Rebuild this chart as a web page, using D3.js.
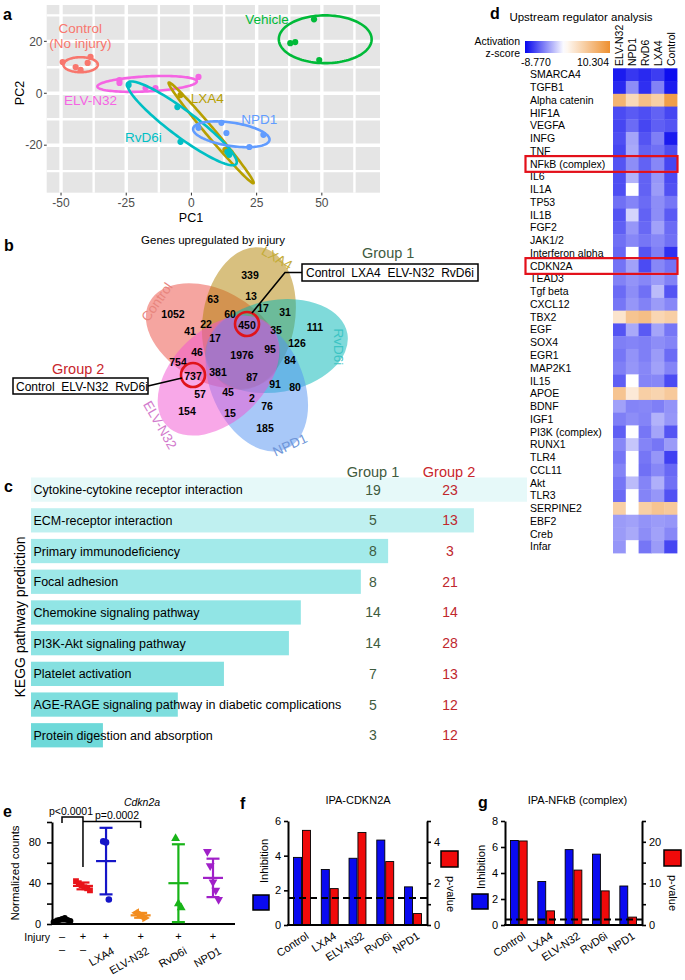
<!DOCTYPE html>
<html><head><meta charset="utf-8">
<script src="https://cdn.jsdelivr.net/npm/d3@7"></script>
<style>
body{margin:0;background:#fff}
svg{display:block;font-family:"Liberation Sans",Arial,Helvetica,sans-serif}
</style></head><body>
<svg id="fig" width="685" height="980"></svg>
<script>
// ================= DATA =================
// Panel a: PCA scores [PC1, PC2]
const pcaGroups = ["Control","Vehicle","ELV-N32","LXA4","RvD6i","NPD1"];
const ptsControl = [[-49.4,12.0],[-44.4,10.1],[-42.5,9.0],[-38.7,14.0],[-39.8,11.7]];
const ptsVehicle = [[37.9,19.3],[39.8,19.7],[47.0,28.5],[49.0,12.8]];
const ptsELV     = [[-27.6,5.1],[-27.6,4.0],[-17.6,2.0],[-13.8,2.0],[2.7,6.3]];
const ptsLXA4    = [[-4.2,-0.7],[13.0,-21.8],[15.0,-22.8]];
const ptsRvD6i   = [[-24.1,3.2],[-5.4,-5.3],[-4.2,-18.7],[13.8,-22.6],[14.5,-23.7]];
const ptsNPD1    = [[2.7,-13.3],[11.5,-11.4],[13.4,-15.3],[22.2,-20.7],[27.6,-16.0]];
// confidence ellipses: [centre PC1, centre PC2, semi-axis a, semi-axis b, angle deg]
const ellControl = [-42.5,11.0,6.6,2.9,0];
const ellVehicle = [51.3,20.8,17.8,9.2,0];
const ellELV     = [-17.0,3.6,19.1,2.9,3];
const ellLXA4    = [7.55,-15.25,25.3,1.7,-50];
const ellRvD6i   = [-3.6,-11.6,26.0,5.0,-37];
const ellNPD1    = [15.3,-15.8,14.8,4.5,-8.6];
const pcaXTicks = [-50,-25,0,25,50];
const pcaYTicks = [-20,0,20];

// Panel b: Venn
const vennSets = ["Control","LXA4","RvD6i","NPD1","ELV-N32"];
const vennCounts = [339,63,13,17,31,1052,60,22,450,35,111,41,17,126,46,1976,95,754,84,737,381,87,91,80,57,45,2,76,154,15,185];

// Panel c: KEGG
const keggTerms = ["Cytokine-cytokine receptor interaction","ECM-receptor interaction","Primary immunodeficiency","Focal adhesion","Chemokine signaling pathway","PI3K-Akt signaling pathway","Platelet activation","AGE-RAGE signaling pathway in diabetic complications","Protein digestion and absorption"];
const keggScore = [10.0,8.93,7.20,6.65,5.44,5.20,3.89,2.96,1.45];
const keggGroup1 = [19,5,8,8,14,14,7,5,3];
const keggGroup2 = [23,13,3,21,14,28,13,12,12];

// Panel d: upstream regulators, activation z-scores
const regulators = ["SMARCA4","TGFB1","Alpha catenin","HIF1A","VEGFA","INFG","TNF","NFkB (complex)","IL6","IL1A","TP53","IL1B","FGF2","JAK1/2","Interferon alpha","CDKN2A","TEAD3","Tgf beta","CXCL12","TBX2","EGF","SOX4","EGR1","MAP2K1","IL15","APOE","BDNF","IGF1","PI3K (complex)","RUNX1","TLR4","CCL11","Akt","TLR3","SERPINE2","EBF2","Creb","Infar"];
const heatCols = ["ELV-N32","NPD1","RvD6","LXA4","Control"];
const zELV  = [-8,-7.5,7,-6.3,-6.5,-6.2,-6.5,-6,-6.2,-6.2,-5,-6,-5.6,-5,-5.3,-4.9,-4.4,-5.2,-4.8,2.5,-6,-4.5,-4.8,-4.5,-5.6,5.5,-3.3,-4.5,-5.6,-4.2,-4.8,-4.3,-4.8,-5.2,4.5,-3.5,-3.5,-3.7];
const zNPD1 = [-7,-4,3.5,-5.8,-5.2,-3.2,-3,-4,-2.7,0,-4.3,-1.5,-3.7,-4.2,0,-3.3,-3.8,-4,-3.7,5.5,-3,-4.3,-3.8,-3.7,0,2,-4.3,-4,0,-2,0,0,-2.4,0,0,-3.3,-3,0];
const zRvD6 = [-7.5,-7.3,6,-6.2,-6.5,-6,-5.5,-5.5,-5.5,-5.5,-5.2,-5.5,-5.3,-4.8,-6,-6.3,-4.2,-5,-4.4,6,-5.8,-4.5,-4.5,-4.2,-4.3,4.5,-4.2,-4.3,-4.8,-4.3,-4.8,-5,-4.3,-4.3,4.5,-3.8,-4,-4.8];
const zLXA4 = [-6.8,-4.4,4.5,-5.5,-5.6,-4.5,-5,-4.2,-3.7,-3.5,-4,-4,-3.3,-4.2,-4.5,-4.2,-3.5,-2.4,-3.5,3.8,-3.2,-4,-3.5,-3.3,-4.2,4,-4.5,-2.7,-3.2,-4.8,-3.7,-4.2,-2.8,-3.7,5.5,-3.5,-3.3,-3.5];
const zCtrl = [-8.5,-8,9,-6.5,-6,-8,-6.2,-6.5,-6.3,-6.1,-4.8,-5.8,-5.2,-5,-7.3,-4.9,-4.4,-6,-4.2,4.5,-4.8,-4.3,-5.2,-4.3,-6.3,5,-3.8,-3.7,-6,-3.5,-6.7,-5.3,-5,-6.1,5,-3.7,-4.2,-6.5];
const zMin = -8.770, zMax = 10.304;
const boxedRegulators = ["NFkB (complex)","CDKN2A"];

// Panel e: Cdkn2a normalized counts
const eGroups = ["Control","Injury","LXA4","ELV-N32","RvD6i","NPD1"];
const eSlot   = [0,1,2.1,3.75,5.55,7.2];
const eInjury = ["–","+","+","+","+","+"];
const eVals = [
  [2,3,4,5,6,4,3],
  [42,40,38,36,35,33],
  [81,80,24],
  [11,10,7,6],
  [84,20,16],
  [71,57,41,33,24]
];

// Panels f, g: IPA
const ipaGroups = ["Control","LXA4","ELV-N32","RvD6i","NPD1"];
const fInhibition = [3.9,3.2,3.85,4.9,2.2];
const fPvalue     = [4.55,1.75,4.45,3.05,0.55];
const gInhibition = [6.5,3.35,5.8,5.45,3.0];
const gPvalue     = [20.2,3.4,13.2,8.2,1.9];
const pThreshold  = 1.3; // -log10(0.05)

// ================= DRAW =================
const svg = d3.select("#fig");
function T(g, x, y, s, o={}) {
  const t = g.append("text").attr("x",x).attr("y",y).text(s)
    .attr("font-size", o.size||11).attr("fill", o.fill||"#000");
  if (o.anchor) t.attr("text-anchor", o.anchor);
  if (o.weight) t.attr("font-weight", o.weight);
  if (o.style) t.attr("font-style", o.style);
  if (o.rot!==undefined) t.attr("transform", `rotate(${o.rot},${x},${y})`);
  if (o.db) t.attr("dominant-baseline", o.db);
  return t;
}
// panel letters
[["a",3,20],["b",4,251],["c",4,492],["d",490,19],["e",3,817],["f",240,809],["g",478,808]]
  .forEach(([l,x,y])=>T(svg,x,y,l,{size:16,weight:"bold"}));

// ---------- a: PCA
(function(){
  const g = svg.append("g");
  const x = d3.scaleLinear().domain([-55.5,72.3]).range([46.7,380]);
  const y = d3.scaleLinear().domain([-38.3,34]).range([192.7,5]);
  g.append("rect").attr("x",x.range()[0]).attr("y",y.range()[1])
    .attr("width",x.range()[1]-x.range()[0]).attr("height",y.range()[0]-y.range()[1]).attr("fill","#E5E5E5");
  const xMinor = pcaXTicks.map(v=>v+12.5).concat([pcaXTicks[0]-12.5]).filter(v=>v>x.domain()[0]&&v<x.domain()[1]);
  const yMinor = pcaYTicks.map(v=>v+10).concat([pcaYTicks[0]-10]).filter(v=>v>y.domain()[0]&&v<y.domain()[1]);
  const gl = g.append("g").attr("stroke","#fff");
  xMinor.forEach(v=>gl.append("line").attr("x1",x(v)).attr("x2",x(v)).attr("y1",y.range()[0]).attr("y2",y.range()[1]).attr("stroke-width",2.4));
  yMinor.forEach(v=>gl.append("line").attr("y1",y(v)).attr("y2",y(v)).attr("x1",x.range()[0]).attr("x2",x.range()[1]).attr("stroke-width",2.4));
  pcaXTicks.forEach(v=>gl.append("line").attr("x1",x(v)).attr("x2",x(v)).attr("y1",y.range()[0]).attr("y2",y.range()[1]).attr("stroke-width",3.4));
  pcaYTicks.forEach(v=>gl.append("line").attr("y1",y(v)).attr("y2",y(v)).attr("x1",x.range()[0]).attr("x2",x.range()[1]).attr("stroke-width",3.4));
  pcaXTicks.forEach(v=>{
    g.append("line").attr("x1",x(v)).attr("x2",x(v)).attr("y1",192.7).attr("y2",195.5).attr("stroke","#333");
    T(g,x(v),206.5,v<0?"-"+Math.abs(v):String(v),{size:12,anchor:"middle",fill:"#4D4D4D"});
  });
  pcaYTicks.forEach(v=>{
    g.append("line").attr("x1",44).attr("x2",46.7).attr("y1",y(v)).attr("y2",y(v)).attr("stroke","#333");
    T(g,42.5,y(v)+4.3,v<0?"-"+Math.abs(v):String(v),{size:12,anchor:"end",fill:"#4D4D4D"});
  });
  T(g,191,222,"PC1",{size:12.5,anchor:"middle"});
  T(g,24,93,"PC2",{size:12.5,anchor:"middle",rot:-90});

  const cols = {"Control":"#F8766D","Vehicle":"#00BA38","ELV-N32":"#F564E3","LXA4":"#B79F00","RvD6i":"#00BFC4","NPD1":"#619CFF"};
  const pts = {"Control":ptsControl,"Vehicle":ptsVehicle,"ELV-N32":ptsELV,"LXA4":ptsLXA4,"RvD6i":ptsRvD6i,"NPD1":ptsNPD1};
  const ells = {"Control":ellControl,"Vehicle":ellVehicle,"ELV-N32":ellELV,"LXA4":ellLXA4,"RvD6i":ellRvD6i,"NPD1":ellNPD1};
  g.append("clipPath").attr("id","clipA").append("rect").attr("x",46.7).attr("y",5).attr("width",333.3).attr("height",187.7);
  const pg = g.append("g").attr("clip-path","url(#clipA)");
  function ellPath(e){
    const [cx,cy,a,b,ang]=e, r=ang*Math.PI/180;
    const p = d3.range(0,360,3).map(t=>{const tt=t*Math.PI/180,u=a*Math.cos(tt),v=b*Math.sin(tt);
      return [x(cx+u*Math.cos(r)-v*Math.sin(r)), y(cy+u*Math.sin(r)+v*Math.cos(r))];});
    return d3.line().curve(d3.curveLinearClosed)(p);
  }
  pcaGroups.forEach(k=>{
    pg.append("path").attr("d",ellPath(ells[k])).attr("fill","none").attr("stroke",cols[k]).attr("stroke-width",2.6);
    pg.selectAll(null).data(pts[k]).enter().append("circle")
      .attr("cx",d=>x(d[0])).attr("cy",d=>y(d[1])).attr("r",3.1).attr("fill",cols[k]);
  });
  const labs = [["Control",-42.6,25.1,"Control"],["Control",-42.6,19.3,"(No injury)"],["Vehicle",29.0,28.6,"Vehicle"],
    ["ELV-N32",-38.7,-2.6,"ELV-N32"],["LXA4",6.1,-1.8,"LXA4"],["RvD6i",-18.4,-16.8,"RvD6i"],["NPD1",26.0,-9.9,"NPD1"]];
  labs.forEach(([k,px,py,s])=>T(g,x(px),y(py)+4.8,s,{size:13.5,anchor:"middle",fill:cols[k]}));
})();

// ---------- b: Venn
(function(){
  const g = svg.append("g");
  const C = [243,352];
  T(g,213,244,"Genes upregulated by injury",{size:11.5,anchor:"middle"});
  const fills = {"Control":"#EB4B41","LXA4":"#B18100","RvD6i":"#00B5B5","NPD1":"#5191F1","ELV-N32":"#F151D1"};
  const angles = {"Control":208,"LXA4":-80,"RvD6i":-10,"NPD1":66,"ELV-N32":136};
  const off=34, ra=72, rb=46;
  vennSets.forEach(s=>{
    const a=angles[s]*Math.PI/180;
    g.append("ellipse").attr("cx",C[0]+off*Math.cos(a)).attr("cy",C[1]+off*Math.sin(a))
      .attr("rx",ra).attr("ry",rb).attr("fill",fills[s]).attr("fill-opacity",0.5)
      .attr("transform",`rotate(${angles[s]},${C[0]+off*Math.cos(a)},${C[1]+off*Math.sin(a)})`);
  });
  const labCols = {"Control":"#E8857E","LXA4":"#C4AC38","RvD6i":"#3CC4C4","NPD1":"#6F96D8","ELV-N32":"#D27ACC"};
  const labPos = {"Control":[157,302,-55],"LXA4":[277,258,30],"RvD6i":[338,347,90],"NPD1":[290,445,-25],"ELV-N32":[160,425,60]};
  vennSets.forEach(s=>{const [lx,ly,r]=labPos[s];
    T(g,lx,ly,s,{size:13.5,anchor:"middle",fill:labCols[s],db:"central",rot:r});});
  const offs = [[7,-78],[-30,-54],[8,-57],[20,-45],[42,-41],[-70,-39],[-13,-39],[-37,-29],[4,-28],[33,-23],[72,-26],[-53,-22],[-28,-15],[54,-10],[-46,-1],[-1,2],[27,-4],[-65,9],[47,7],[-50,23],[-25,19],[9,24],[32,31],[52,34],[-43,41],[-15,39],[9,45],[24,53],[-56,58],[-13,60],[22,75]];
  vennCounts.forEach((v,i)=>T(g,C[0]+offs[i][0],C[1]+offs[i][1]+0.5,String(v),{size:10.5,weight:"bold",anchor:"middle",db:"central"}));
  [[450,offs[8]],[737,offs[19]]].forEach(([v,o])=>g.append("circle").attr("cx",C[0]+o[0]).attr("cy",C[1]+o[1]).attr("r",12)
    .attr("fill","none").attr("stroke","#E0141A").attr("stroke-width",2.6));
  g.append("path").attr("d","M252,313 L285,272.5 L302,272.5").attr("fill","none").attr("stroke","#000").attr("stroke-width",1.6);
  g.append("rect").attr("x",302).attr("y",264).attr("width",176).attr("height",17).attr("fill","#fff").attr("stroke","#000").attr("stroke-width",1.5);
  T(g,306,277,"Control  LXA4  ELV-N32  RvD6i",{size:12}).style("white-space","pre");
  T(g,362,258,"Group 1",{size:14.5,fill:"#3E5B3E"});
  g.append("path").attr("d","M148,386 L182,378").attr("fill","none").attr("stroke","#000").attr("stroke-width",1.6);
  g.append("rect").attr("x",13).attr("y",378).attr("width",135).attr("height",16).attr("fill","#fff").attr("stroke","#000").attr("stroke-width",1.5);
  T(g,16,390.5,"Control  ELV-N32  RvD6i",{size:12}).style("white-space","pre");
  T(g,52,374,"Group 2",{size:14.5,fill:"#C8262C"});
})();

// ---------- c: KEGG
(function(){
  const g = svg.append("g");
  const x = d3.scaleLinear().domain([0,10]).range([31,527]);
  const y = d3.scaleBand().domain(keggTerms).range([477.5,747.4]).paddingInner(0.21).paddingOuter(0);
  const col = d3.scaleLinear().domain([1.45,2.96,5.2,7.2,8.93,10]).range(["#6ED9D9","#7EDEDE","#8EE4E4","#A3EAEA","#BFF0F0","#E6F9F9"]);
  keggTerms.forEach((t,i)=>{
    g.append("rect").attr("x",x(0)).attr("y",y(t)).attr("width",x(keggScore[i])-x(0)).attr("height",y.bandwidth()).attr("fill",col(keggScore[i]));
    const cy = y(t)+y.bandwidth()/2;
    T(g,33.5,cy+4.5,t,{size:12.5});
    T(g,373,cy+5,String(keggGroup1[i]),{size:14,anchor:"middle",fill:"#3E5B3E"});
    T(g,450,cy+5,String(keggGroup2[i]),{size:14,anchor:"middle",fill:"#C0272D"});
  });
  T(g,373,477,"Group 1",{size:14.5,anchor:"middle",fill:"#3E5B3E"});
  T(g,449,477,"Group 2",{size:14.5,anchor:"middle",fill:"#C8262C"});
  T(g,25,617,"KEGG pathway prediction",{size:14,anchor:"middle",rot:-90});
})();

// ---------- d: heatmap
(function(){
  const g = svg.append("g");
  const x = d3.scaleBand().domain(heatCols).range([613,677]);
  const y = d3.scaleBand().domain(regulators).range([68.3,553]);
  const zc = d3.scaleLinear().domain([zMin,0,zMax]).range(["#0505EE","#FFFFFF","#EE9030"]);
  const cols = [zELV,zNPD1,zRvD6,zLXA4,zCtrl];
  T(g,581,21,"Upstream regulator analysis",{size:11.5,anchor:"middle"});
  const grad = svg.append("defs").append("linearGradient").attr("id","zgrad");
  d3.range(0,1.0001,0.05).forEach(t=>grad.append("stop").attr("offset",t).attr("stop-color",zc(zMin+t*(zMax-zMin))));
  g.append("rect").attr("x",525).attr("y",41).attr("width",85).attr("height",12).attr("fill","url(#zgrad)");
  T(g,520,45,"Activation",{size:10.5,anchor:"end"});
  T(g,520,57,"z-score",{size:10.5,anchor:"end"});
  T(g,521,66,zMin.toFixed(3),{size:10.5});
  T(g,609,66,zMax.toFixed(3),{size:10.5,anchor:"end"});
  heatCols.forEach(c=>T(g,x(c)+x.bandwidth()/2,66,c,{size:10.5,anchor:"start",db:"central",rot:-90}));
  regulators.forEach((r,i)=>{
    T(g,530,y(r)+y.bandwidth()/2+3.7,r,{size:10.5});
    heatCols.forEach((c,j)=>g.append("rect").attr("x",x(c)).attr("y",y(r)).attr("width",x.bandwidth()+0.4).attr("height",y.bandwidth()+0.4).attr("fill",zc(cols[j][i])));
  });
  boxedRegulators.forEach(r=>g.append("rect").attr("x",525.5).attr("y",y(r)-1.5).attr("width",152).attr("height",y.bandwidth()+3)
    .attr("fill","none").attr("stroke","#E3101A").attr("stroke-width",2.2));
})();

// ---------- e: Cdkn2a
(function(){
  const g = svg.append("g");
  const x = d3.scaleLinear().domain([0,7.2]).range([62,213]);
  const y = d3.scaleLinear().domain([0,100]).range([924,822]);
  const cols = ["#000000","#E8141A","#1515C8","#F28C1E","#18B418","#A020C8"];
  const sym = [d3.symbolCircle,d3.symbolSquare,d3.symbolCircle,d3.symbolTriangle,d3.symbolTriangle,d3.symbolTriangle];
  const rot = [0,0,0,90,0,180];
  const ax = g.append("g").attr("transform","translate(52,0)")
    .call(d3.axisLeft(y).tickValues([0,20,40,60,80,100]).tickFormat(d=>(d%40===0&&d<100)?d:"").tickSize(5).tickPadding(6).tickSizeOuter(0));
  ax.select(".domain").attr("stroke-width",2);
  ax.selectAll(".tick line").attr("stroke-width",1.6);
  ax.selectAll("text").attr("font-size",11).attr("font-family",null);
  g.append("line").attr("x1",51).attr("x2",235).attr("y1",924).attr("y2",924).attr("stroke","#000").attr("stroke-width",2.2);
  T(g,19,873,"Normalized counts",{size:11.5,anchor:"middle",rot:-90});
  T(g,142,806,"Cdkn2a",{size:10.5,anchor:"middle",style:"italic"});
  eGroups.forEach((k,i)=>{
    const cx = x(eSlot[i]), v = eVals[i], n=v.length;
    const m = d3.mean(v), sd = d3.deviation(v);
    v.forEach((d,j)=>{
      const dx = (j-(n-1)/2)*2.8;
      g.append("path").attr("d",d3.symbol().type(sym[i]).size(i===0?28:34)())
        .attr("transform",`translate(${cx+dx},${y(d)}) rotate(${rot[i]===90?(j%2?90:-90):rot[i]})`).attr("fill",cols[i]);
    });
    const sg = g.append("g").attr("stroke",cols[i]).attr("stroke-width",2.2);
    sg.append("line").attr("x1",cx).attr("x2",cx).attr("y1",y(m-sd)).attr("y2",y(m+sd));
    sg.append("line").attr("x1",cx-6.5).attr("x2",cx+6.5).attr("y1",y(m-sd)).attr("y2",y(m-sd));
    sg.append("line").attr("x1",cx-6.5).attr("x2",cx+6.5).attr("y1",y(m+sd)).attr("y2",y(m+sd));
    sg.append("line").attr("x1",cx-10).attr("x2",cx+10).attr("y1",y(m)).attr("y2",y(m));
    T(g,cx,940,eInjury[i],{size:11,anchor:"middle"});
    if (i<2) T(g,cx,953,"–",{size:11,anchor:"middle"});
    else T(g,cx+5,946,k,{size:11,anchor:"end",rot:-30}).attr("dy","0.75em");
  });
  T(g,50,941,"Injury",{size:10.5,anchor:"end"});
  g.append("path").attr("d",`M${x(eSlot[0])},${y(99)} V${y(105)} H${x(eSlot[1])} V${y(56)}`).attr("fill","none").attr("stroke","#000").attr("stroke-width",1.5);
  g.append("path").attr("d",`M${x(eSlot[1])},${y(100.5)} H${x(eSlot[3])} V${y(94)}`).attr("fill","none").attr("stroke","#000").attr("stroke-width",1.5);
  T(g,71,815,"p<0.0001",{size:10.5,anchor:"middle"});
  T(g,117,819,"p=0.0002",{size:10.5,anchor:"middle"});
})();

// ---------- f, g: IPA bars
function ipaPanel(opt){
  const g = svg.append("g");
  const x0 = d3.scaleBand().domain(ipaGroups).range([opt.x0,opt.x1]).paddingInner(0.39).paddingOuter(0.2);
  const x1 = d3.scaleBand().domain(["inh","p"]).range([0,x0.bandwidth()]).paddingInner(0.1);
  const yL = d3.scaleLinear().domain([0,opt.maxL]).range([925,821]);
  const yR = d3.scaleLinear().domain([0,opt.maxR]).range([925,821]);
  T(g,(opt.x0+opt.x1)/2+opt.titleDx,803.5,opt.title,{size:11,anchor:"middle"});
  const aL = g.append("g").attr("transform",`translate(${opt.x0},0)`)
    .call(d3.axisLeft(yL).tickValues(d3.range(0,opt.maxL+0.01,2)).tickFormat(d3.format("d")).tickSize(4).tickPadding(3).tickSizeOuter(0));
  const aR = g.append("g").attr("transform",`translate(${opt.x1},0)`)
    .call(d3.axisRight(yR).tickValues(d3.range(0,opt.maxR+0.01,opt.stepR)).tickFormat(d=>(Math.round(d/opt.stepR)%2===0)?d3.format("d")(d):"").tickSize(4).tickPadding(3).tickSizeOuter(0));
  [aL,aR].forEach(a=>{a.select(".domain").attr("stroke-width",2);a.selectAll(".tick line").attr("stroke-width",1.6);
    a.selectAll("text").attr("font-size",11).attr("font-family",null);});
  ipaGroups.forEach((k,i)=>{
    g.append("rect").attr("x",x0(k)+x1("inh")).attr("y",yL(opt.inh[i])).attr("width",x1.bandwidth()).attr("height",925-yL(opt.inh[i]))
      .attr("fill","#0A0AF0").attr("stroke","#000").attr("stroke-width",0.9);
    g.append("rect").attr("x",x0(k)+x1("p")).attr("y",yR(opt.p[i])).attr("width",x1.bandwidth()).attr("height",925-yR(opt.p[i]))
      .attr("fill","#F00A0A").attr("stroke","#000").attr("stroke-width",0.9);
    T(g,x0(k)+x0.bandwidth()/2+3,931,k,{size:11,anchor:"end",rot:-33}).attr("dy","0.75em");
  });
  g.append("line").attr("x1",opt.x0).attr("x2",opt.x1).attr("y1",yR(pThreshold)).attr("y2",yR(pThreshold))
    .attr("stroke","#000").attr("stroke-width",2).attr("stroke-dasharray","7,4");
  g.append("line").attr("x1",opt.x0-1).attr("x2",opt.x1+1).attr("y1",925).attr("y2",925).attr("stroke","#000").attr("stroke-width",2.2);
  T(g,opt.inhX,opt.inhY,"Inhibition",{size:11,anchor:"middle",rot:-90});
  g.append("rect").attr("x",opt.bsq[0]).attr("y",opt.bsq[1]).attr("width",16).attr("height",15).attr("fill","#0A0AF0").attr("stroke","#000").attr("stroke-width",1.5);
  g.append("rect").attr("x",opt.rsq[0]).attr("y",opt.rsq[1]).attr("width",17).attr("height",16).attr("fill","#F00A0A").attr("stroke","#000").attr("stroke-width",1.5);
  T(g,opt.pX,opt.pY,"p-value",{size:11,anchor:"middle",rot:90});
}
ipaPanel({x0:288,x1:427,maxL:6,maxR:5,stepR:1,inh:fInhibition,p:fPvalue,title:"IPA-CDKN2A",titleDx:0.5,
  inhX:268,inhY:861,bsq:[253,895],rsq:[441,851],pX:447,pY:894});
ipaPanel({x0:505,x1:642,maxL:8,maxR:25,stepR:5,inh:gInhibition,p:gPvalue,title:"IPA-NFkB (complex)",titleDx:4,
  inhX:485,inhY:867,bsq:[472,894],rsq:[664,850],pX:669,pY:893});
</script>
</body></html>
